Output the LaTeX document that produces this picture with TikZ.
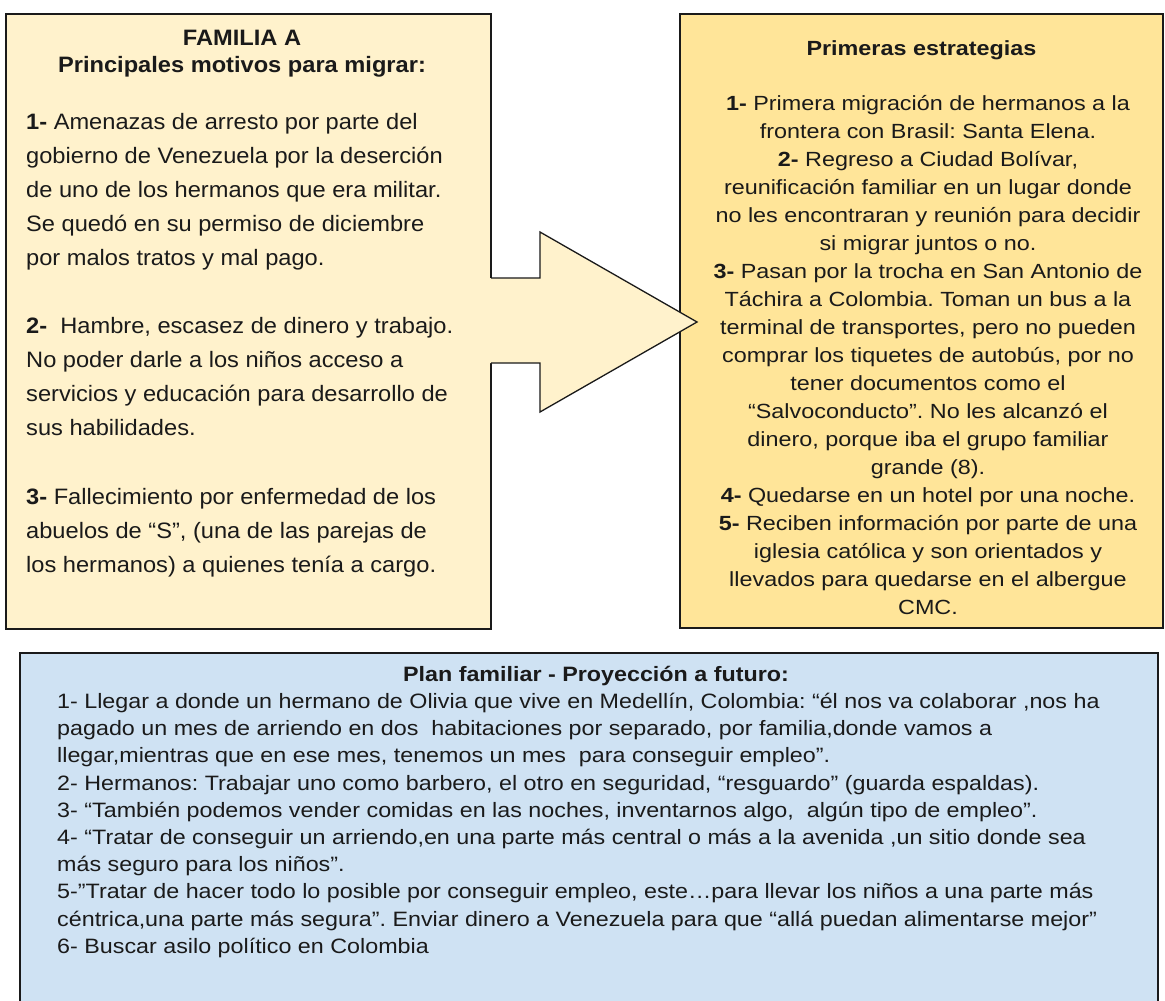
\documentclass[tikz,border=0pt]{standalone}
\usepackage{fontspec}
\usetikzlibrary{shadows}
\newfontfamily\lfont[FakeStretch=1.06]{Liberation Sans}
\newfontfamily\rfont[FakeStretch=1.14]{Liberation Sans}
\newfontfamily\bfont[FakeStretch=1.12]{Liberation Sans}
\definecolor{lightyel}{HTML}{FFF2CC}
\definecolor{darkyel}{HTML}{FFE599}
\definecolor{lightblue}{HTML}{CFE2F3}
\definecolor{ink}{HTML}{1A1A1A}
\frenchspacing
\begin{document}
\begin{tikzpicture}[x=1pt,y=-1pt,
  boxstyle/.style={draw=ink, line width=1.3pt, drop shadow={shadow xshift=1.2pt,shadow yshift=-1.2pt,opacity=0.3}},
  arrowline/.style={draw=ink, line width=1.3pt, line join=miter},
  txt/.style={inner sep=0pt, text=ink}]
\useasboundingbox (0,0) rectangle (1165,1001);
\clip (0,0) rectangle (1165,1001);
\fill[white] (0,0) rectangle (1165,1001);
% boxes
\path[boxstyle, fill=lightyel] (6,14) rectangle (491,629);
\path[boxstyle, fill=darkyel] (680,14) rectangle (1163,628);
\path[boxstyle, fill=lightblue] (20,653) rectangle (1158,1015);
% arrow
\fill[lightyel] (489.5,278) -- (540,278) -- (540,232) -- (697,322) -- (540,412) -- (540,363) -- (489.5,363) -- cycle;
\path[arrowline] (491,278) -- (540,278) -- (540,232) -- (697,322) -- (540,412) -- (540,363) -- (491,363);
% left box text
\node[txt, anchor=base] (lhead) at (242,45) {\parbox[t]{440pt}{\centering\frenchspacing\lfont\fontsize{22.3}{27.7}\selectfont\bfseries
FAMILIA A\\
Principales motivos para migrar:}};
\node[txt, anchor=base west] (lbody) at (26,129) {\parbox[t]{460pt}{\raggedright\frenchspacing\lfont\fontsize{22.3}{34.1}\selectfont
\textbf{1-} Amenazas de arresto por parte del\\
gobierno de Venezuela por la deserción\\
de uno de los hermanos que era militar.\\
Se quedó en su permiso de diciembre\\
por malos tratos y mal pago.\\[34.1pt]
\textbf{2-}\ \ Hambre, escasez de dinero y trabajo.\\
No poder darle a los niños acceso a\\
servicios y educación para desarrollo de\\
sus habilidades.\\[34.1pt]
\textbf{3-} Fallecimiento por enfermedad de los\\
abuelos de “S”, (una de las parejas de\\
los hermanos) a quienes tenía a cargo.}};
% right box text
\node[txt, anchor=base] (rhead) at (921.5,55) {\parbox[t]{460pt}{\centering\frenchspacing\rfont\fontsize{20.5}{28}\selectfont\bfseries
Primeras estrategias}};
\node[txt, anchor=base] (rbody) at (928,110.7) {\parbox[t]{470pt}{\centering\frenchspacing\rfont\fontsize{20.5}{28}\selectfont
\textbf{1-} Primera migración de hermanos a la\\
frontera con Brasil: Santa Elena.\\
\textbf{2-} Regreso a Ciudad Bolívar,\\
reunificación familiar en un lugar donde\\
no les encontraran y reunión para decidir\\
si migrar juntos o no.\\
\textbf{3-} Pasan por la trocha en San Antonio de\\
Táchira a Colombia. Toman un bus a la\\
terminal de transportes, pero no pueden\\
comprar los tiquetes de autobús, por no\\
tener documentos como el\\
“Salvoconducto”. No les alcanzó el\\
dinero, porque iba el grupo familiar\\
grande (8).\\
\textbf{4-} Quedarse en un hotel por una noche.\\
\textbf{5-} Reciben información por parte de una\\
iglesia católica y son orientados y\\
llevados para quedarse en el albergue\\
CMC.}};
% bottom box text
\node[txt, anchor=base] (bhead) at (596,681) {\parbox[t]{800pt}{\centering\frenchspacing\bfont\fontsize{20.8}{27.2}\selectfont\bfseries
Plan familiar - Proyección a futuro:}};
\node[txt, anchor=base west] (bbody) at (57,708.5) {\parbox[t]{1095pt}{\raggedright\frenchspacing\bfont\fontsize{20.8}{27.2}\selectfont
1- Llegar a donde un hermano de Olivia que vive en Medellín, Colombia: “él nos va colaborar ,nos ha\\
pagado un mes de arriendo en dos\ \ habitaciones por separado, por familia,donde vamos a\\
llegar,mientras que en ese mes, tenemos un mes\ \ para conseguir empleo”.\\
2- Hermanos: Trabajar uno como barbero, el otro en seguridad, “resguardo” (guarda espaldas).\\
3- “También podemos vender comidas en las noches, inventarnos algo,\ \ algún tipo de empleo”.\\
4- “Tratar de conseguir un arriendo,en una parte más central o más a la avenida ,un sitio donde sea\\
más seguro para los niños”.\\
5-”Tratar de hacer todo lo posible por conseguir empleo, este…para llevar los niños a una parte más\\
céntrica,una parte más segura”. Enviar dinero a Venezuela para que “allá puedan alimentarse mejor”\\
6- Buscar asilo político en Colombia}};
\end{tikzpicture}
\end{document}
